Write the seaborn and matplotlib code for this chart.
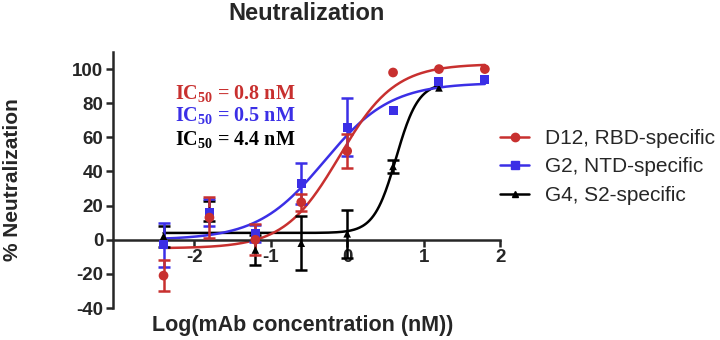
import numpy as np
import pandas as pd
import matplotlib
matplotlib.use('Agg')
import matplotlib.pyplot as plt
import seaborn as sns
from matplotlib.lines import Line2D

sns.set_style("ticks")
plt.rcParams['font.family'] = ['Liberation Sans', 'DejaVu Sans']
plt.rcParams['axes.unicode_minus'] = False
plt.rcParams['mathtext.fontset'] = 'custom'
plt.rcParams['mathtext.rm'] = 'Liberation Serif:bold'
plt.rcParams['mathtext.it'] = 'Liberation Serif:bold'
plt.rcParams['mathtext.bf'] = 'Liberation Serif:bold'

# log10 concentration (nM)
log_conc = [-2.4, -1.8, -1.2, -0.6, 0.0, 0.6, 1.2, 1.8]

d12_mean = [-21, 13, 0, 22, 52, 98, 100, 100]
d12_err = [9, 12, 9, 5, 10, 0, 0, 0]
g2_mean = [-3, 16, 3.5, 33, 66, 75.5, 93, 94]
g2_err = [13, 8, 5, 12, 17, 0, 0, 0]
g4_conc = [-2.4, -1.8, -1.2, -0.6, 0.0, 0.6, 1.2]
g4_mean = [2, 17, -6, -2, 3.5, 43, 89]
g4_err = [6, 6, 9, 16, 14, 4, 0]

# 4PL fit parameters: bottom, top, logIC50, hill
fit_d12 = [-5, 103, -0.1, 1.2]
fit_g2 = [0, 92, -0.3, 1.0]
fit_g4 = [4, 92, 0.64, 3.0]

labels = ['D12, RBD-specific', 'G2, NTD-specific', 'G4, S2-specific']
ic50_text = ['0.8', '0.5', '4.4']
colors = ['#c8302f', '#3b2fe6', '#000000']
markers = ['o', 's', '^']
msizes = [7, 6.5, 5.5]


def fourpl(x, p):
    bottom, top, logic, hill = p
    return bottom + (top - bottom) / (1 + 10 ** (hill * (logic - x)))


series = [
    (log_conc, d12_mean, d12_err, fit_d12, 1.8),
    (log_conc, g2_mean, g2_err, fit_g2, 1.8),
    (g4_conc, g4_mean, g4_err, fit_g4, 1.2),
]

fig = plt.figure(figsize=(7.2, 3.4), dpi=100)
ax = fig.add_axes([0.157, 0.094, 0.543, 0.753])

# draw black first so red/blue sit on top
for i in [2, 1, 0]:
    xs, ys, es, fit, xmax = series[i]
    xx = np.linspace(-2.4, xmax, 300)
    curve = pd.DataFrame({'x': xx, 'y': fourpl(xx, fit)})
    sns.lineplot(data=curve, x='x', y='y', color=colors[i], linewidth=1.8, ax=ax)
    pts = pd.DataFrame({'x': xs, 'y': ys, 'e': es})
    eb = pts[pts.e > 0]
    ax.errorbar(eb.x, eb.y, yerr=eb.e, fmt='none', ecolor=colors[i], elinewidth=1.8,
                capsize=4, capthick=1.8, zorder=3)
    sns.scatterplot(data=pts, x='x', y='y', color=colors[i], marker=markers[i],
                    s=msizes[i] ** 2, edgecolor='none', ax=ax, zorder=4)

ax.set_xlim(-3.06, 2.05)
ax.set_ylim(-40, 110)
ax.spines['top'].set_visible(False)
ax.spines['right'].set_visible(False)
ax.spines['bottom'].set_position(('data', 0))
ax.spines['bottom'].set_bounds(-3.06, 2)
ax.spines['left'].set_bounds(-40, 110)
for sp in ['left', 'bottom']:
    ax.spines[sp].set_linewidth(1.8)
ax.set_xticks([-2, -1, 0, 1, 2])
ax.set_yticks(range(-40, 101, 20))
ax.tick_params(axis='both', direction='out', length=5, width=1.8, labelsize=13.5, pad=2)
for t in ax.get_xticklabels() + ax.get_yticklabels():
    t.set_fontweight('bold')
ax.set_xlabel('')
ax.set_ylabel('')

fig.text(307 / 720, 1 - 14 / 340, 'Neutralization', ha='center', va='center',
         fontsize=17, fontweight='bold')
fig.text(303 / 720, 1 - 325 / 340, 'Log(mAb concentration (nM))', ha='center',
         va='center', fontsize=15.5, fontweight='bold')
fig.text(13 / 720, 1 - 180 / 340, '% Neutralization', ha='center', va='center',
         rotation=90, fontsize=15, fontweight='bold')

for i, v in enumerate(ic50_text):
    fig.text(175 / 720, 1 - (93 + 23 * i) / 340, 'IC$_{50}$ = %s nM' % v,
             ha='left', va='center', fontsize=14.5, color=colors[i],
             family='Liberation Serif', fontweight='bold')

handles = [Line2D([0], [0], color=colors[i], marker=markers[i], markersize=msizes[i] - 1,
                  linewidth=1.8) for i in range(3)]
fig.legend(handles, labels, loc='center left', bbox_to_anchor=(500 / 720, 1 - 167 / 340),
           frameon=False, fontsize=15, handlelength=1.4, handletextpad=0.75,
           labelspacing=0.45, borderpad=0, borderaxespad=0)

fig.savefig('out.png', dpi=100)
